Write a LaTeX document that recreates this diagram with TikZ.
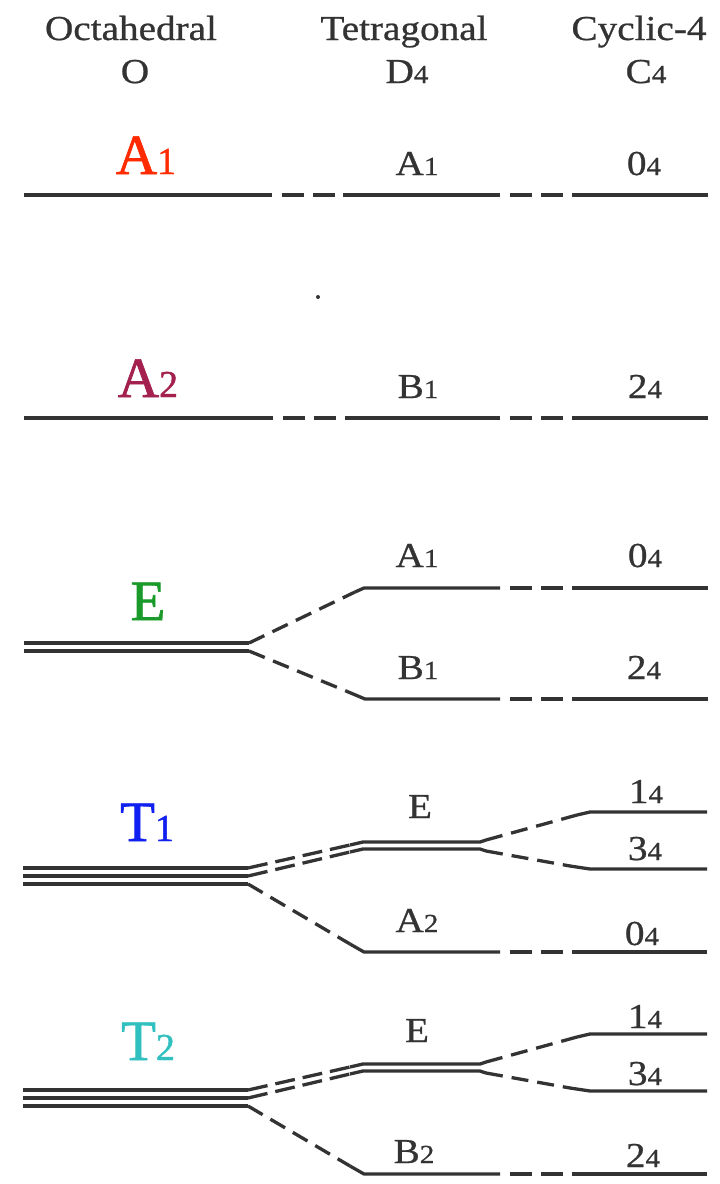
\documentclass[tikz,border=0pt]{standalone}
\usepackage{fontspec}
\setmainfont{Liberation Serif}[FakeStretch=1.12, FakeBold=0.7]
\newfontfamily\bigfont{Liberation Serif}[FakeBold=1.2]
\definecolor{ink}{HTML}{333333}
\definecolor{cAone}{HTML}{FF2A00}
\definecolor{cAtwo}{HTML}{A3204F}
\definecolor{cE}{HTML}{1A9A2A}
\definecolor{cTone}{HTML}{1020F0}
\definecolor{cTtwo}{HTML}{30C0C0}
\newcommand\lsub[1]{{\fontsize{26}{26}\selectfont #1}}
\newcommand\bsub[1]{{\fontsize{38}{38}\selectfont #1}}
\newcommand\tsplit{%
  \coordinate (o1) at (23,868); \coordinate (o1e) at (248,868);
  \coordinate (o2) at (23,876); \coordinate (o2e) at (248,876);
  \coordinate (o3) at (23,884); \coordinate (o3e) at (248,884);
  \draw[lvl] (o1) -- (o1e);
  \draw[lvl] (o2) -- (o2e);
  \draw[lvl] (o3) -- (o3e);
  \coordinate (e1s) at (350,845); \coordinate (e1) at (363,842);
  \coordinate (e1e) at (480,842); \coordinate (e1t) at (486,840);
  \coordinate (e2s) at (350,852); \coordinate (e2) at (363,849);
  \coordinate (e2e) at (480,849); \coordinate (e2t) at (486,851);
  \draw[dshtwo] (o1e) -- (e1s);
  \draw[dshtwo] (o2e) -- (e2s);
  \draw[lvl] (e1s) -- (e1) -- (e1e) -- (e1t);
  \draw[lvl] (e2s) -- (e2) -- (e2e) -- (e2t);
  \coordinate (f1s) at (577,815); \coordinate (f1) at (590,812); \coordinate (f1e) at (707,812);
  \draw[dsh] (e1t) -- (f1s);
  \draw[lvl] (f1s) -- (f1) -- (f1e);
  \coordinate (f3s) at (570,866); \coordinate (f3) at (590,869); \coordinate (f3e) at (707,869);
  \draw[dsh] (e2t) -- (f3s);
  \draw[lvl] (f3s) -- (f3) -- (f3e);
  \coordinate (gs) at (350,944); \coordinate (g) at (364,952);
  \coordinate (ge) at (500,952); \coordinate (gc) at (572,952); \coordinate (gce) at (707,952);
  \draw[dsh] (o3e) -- (gs);
  \draw[lvl] (gs) -- (g) -- (ge);
  \draw[hgap] (ge) -- (gc);
  \draw[lvl] (gc) -- (gce);
}
\begin{document}
\begin{tikzpicture}[x=1pt,y=-1pt,
  lvl/.style={line width=3.3pt, draw=ink, line cap=butt},
  dsh/.style={lvl, dash pattern=on 17pt off 9pt},
  dshtwo/.style={lvl, dash pattern=on 20pt off 8pt},
  hgap/.style={lvl, dash pattern=on 22pt off 9.5pt, dash phase=22pt},
  txt/.style={anchor=base, inner sep=0pt, text=ink, font=\fontsize{35}{40}\selectfont},
  big/.style={anchor=base, inner sep=0pt, font=\bigfont\fontsize{57}{60}\selectfont}]
\fill[white] (0,0) rectangle (720,1184);
\useasboundingbox (0,0) rectangle (720,1184);

% headers
\node[txt] (hO) at (131,40) {Octahedral};
\node[txt] (hD) at (404,40) {Tetragonal};
\node[txt] (hC) at (639,40) {Cyclic-4};
\node[txt] (gO) at (135,83) {O};
\node[txt] (gD) at (407,83) {D\lsub{4}};
\node[txt] (gC) at (646,83) {C\lsub{4}};

% A1 row
\coordinate (a1o) at (24,195); \coordinate (a1oe) at (272,195);
\coordinate (a1d) at (343,195); \coordinate (a1de) at (500,195);
\coordinate (a1c) at (572,195); \coordinate (a1ce) at (708,195);
\draw[lvl] (a1o) -- (a1oe);
\draw[hgap] (a1oe) -- (a1d);
\draw[lvl] (a1d) -- (a1de);
\draw[hgap] (a1de) -- (a1c);
\draw[lvl] (a1c) -- (a1ce);
\node[big, text=cAone] (LA1) at (146,174) {A\bsub{1}};
\node[txt] (dA1) at (417,175) {A\lsub{1}};
\node[txt] (cA1) at (644,175) {0\lsub{4}};

% speck
\fill[ink] (318,297) circle (2);

% A2 row
\coordinate (a2o) at (24,418); \coordinate (a2oe) at (273,418);
\coordinate (a2d) at (345,418); \coordinate (a2de) at (500,418);
\coordinate (a2c) at (572,418); \coordinate (a2ce) at (708,418);
\draw[lvl] (a2o) -- (a2oe);
\draw[hgap] (a2oe) -- (a2d);
\draw[lvl] (a2d) -- (a2de);
\draw[hgap] (a2de) -- (a2c);
\draw[lvl] (a2c) -- (a2ce);
\node[big, text=cAtwo] (LA2) at (148,397) {A\bsub{2}};
\node[txt] (dB1) at (418,398) {B\lsub{1}};
\node[txt] (cB1) at (645,398) {2\lsub{4}};

% E row
\coordinate (eo1) at (24,643); \coordinate (eo1e) at (249,643);
\coordinate (eo2) at (24,651); \coordinate (eo2e) at (249,651);
\draw[lvl] (eo1) -- (eo1e);
\draw[lvl] (eo2) -- (eo2e);
\coordinate (ea1s) at (355,592); \coordinate (ea1) at (364,588);
\coordinate (ea1e) at (500,588); \coordinate (ea1c) at (572,588); \coordinate (ea1ce) at (708,588);
\draw[dsh] (eo1e) -- (ea1s);
\draw[lvl] (ea1s) -- (ea1) -- (ea1e);
\draw[hgap] (ea1e) -- (ea1c);
\draw[lvl] (ea1c) -- (ea1ce);
\coordinate (eb1s) at (346,691); \coordinate (eb1) at (365,699);
\coordinate (eb1e) at (500,699); \coordinate (eb1c) at (572,699); \coordinate (eb1ce) at (708,699);
\draw[dsh] (eo2e) -- (eb1s);
\draw[lvl] (eb1s) -- (eb1) -- (eb1e);
\draw[hgap] (eb1e) -- (eb1c);
\draw[lvl] (eb1c) -- (eb1ce);
\node[big, text=cE] (LE) at (148,620) {E};
\node[txt] (eA1) at (417,567) {A\lsub{1}};
\node[txt] (e04) at (645,567) {0\lsub{4}};
\node[txt] (eB1) at (418,679) {B\lsub{1}};
\node[txt] (e24) at (644,679) {2\lsub{4}};

% T1 row
\begin{scope}[name prefix=t1-]
\tsplit
\end{scope}
\node[big, text=cTone] (LT1) at (147,841) {T\bsub{1}};
\node[txt] (t1E) at (420,818) {E};
\node[txt] (t1f1) at (646,803) {1\lsub{4}};
\node[txt] (t1f3) at (645,860) {3\lsub{4}};
\node[txt] (t1A2) at (417,932) {A\lsub{2}};
\node[txt] (t1g) at (642,945) {0\lsub{4}};

% T2 row
\begin{scope}[shift={(0,222)}, name prefix=t2-]
\tsplit
\end{scope}
\node[big, text=cTtwo] (LT2) at (148,1060) {T\bsub{2}};
\node[txt] (t2E) at (417,1042) {E};
\node[txt] (t2f1) at (645,1028) {1\lsub{4}};
\node[txt] (t2f3) at (645,1085) {3\lsub{4}};
\node[txt] (t2B2) at (414,1163) {B\lsub{2}};
\node[txt] (t2g) at (643,1167) {2\lsub{4}};
\end{tikzpicture}
\end{document}
